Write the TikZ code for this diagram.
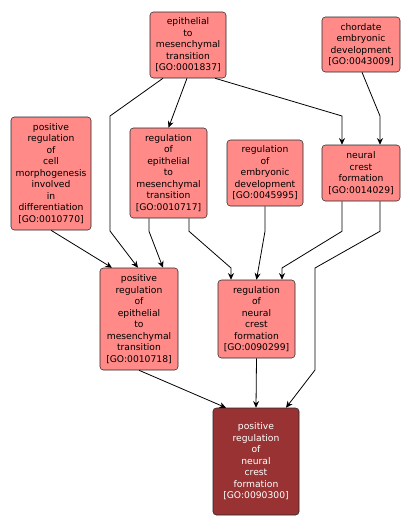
\documentclass[tikz,border=0pt]{standalone}
\usepackage{fontspec}
\setmainfont{DejaVu Sans}
\usetikzlibrary{arrows.meta, calc}
\tikzset{
    %Define standard arrow tip
    >={Stealth[length=5pt,width=4.5pt]},
}
\definecolor{golight}{HTML}{FF8A88}
\definecolor{godark}{HTML}{993333}

\begin{document}
\begin{tikzpicture}[
    x=0.75pt, y=-0.75pt,
    term/.style = {draw=black!85, fill=golight, rounded corners=2.5pt,
                   align=center, inner sep=1pt,
                   font=\fontsize{6.9}{8.6}\selectfont},
    hit/.style = {term, fill=godark, text=white},
    lnk/.style = {->, black, line width=0.6pt},
  ]
  \useasboundingbox (0,0) rectangle (410,529);
  \node[term, minimum width=57pt, minimum height=49.5pt] (emt) at (188,45)
    {epithelial\\to\\mesenchymal\\transition\\{[GO:0001837]}};
  \node[term, minimum width=58.5pt, minimum height=41.25pt] (chord) at (361,44.5)
    {chordate\\embryonic\\development\\{[GO:0043009]}};
  \node[term, minimum width=60pt, minimum height=84.75pt] (morph) at (51,173.5)
    {positive\\regulation\\of\\cell\\morphogenesis\\involved\\in\\differentiation\\{[GO:0010770]}};
  \node[term, minimum width=57.75pt, minimum height=67.5pt] (regemt) at (168.5,173)
    {regulation\\of\\epithelial\\to\\mesenchymal\\transition\\{[GO:0010717]}};
  \node[term, minimum width=57pt, minimum height=49.5pt] (regemb) at (265,173)
    {regulation\\of\\embryonic\\development\\{[GO:0045995]}};
  \node[term, minimum width=58.5pt, minimum height=42pt] (ncf) at (361,173)
    {neural\\crest\\formation\\{[GO:0014029]}};
  \node[term, minimum width=58.5pt, minimum height=76.5pt] (posemt) at (139,319)
    {positive\\regulation\\of\\epithelial\\to\\mesenchymal\\transition\\{[GO:0010718]}};
  \node[term, minimum width=57.75pt, minimum height=58.5pt] (regncf) at (256.5,319)
    {regulation\\of\\neural\\crest\\formation\\{[GO:0090299]}};
  \node[hit, minimum width=64.5pt, minimum height=80.25pt] (posncf) at (256,461.5)
    {positive\\regulation\\of\\neural\\crest\\formation\\{[GO:0090300]}};
  % edges
  \draw[lnk] ($(emt.south)+(-1,0)$) -- (regemt.north);
  \draw[lnk] ($(emt.south)+(-25,0)$) -- (110,116) -- (110,231) -- ($(posemt.north)+(-1,0)$);
  \draw[lnk] ($(emt.south)+(27,0)$) -- (342,116) -- ($(ncf.north)+(-19,0)$);
  \draw[lnk] ($(chord.south)+(1,0)$) -- (380,116) -- ($(ncf.north)+(19,0)$);
  \draw[lnk] (morph.south) -- ($(posemt.north)+(-27,0)$);
  \draw[lnk] ($(regemt.south)+(-19.5,0)$) -- ++(0,13) -- ($(posemt.north)+(24,0)$);
  \draw[lnk] ($(regemt.south)+(20.5,0)$) -- ++(0,13) -- (231,268) -- ($(regncf.north)+(-25.5,0)$);
  \draw[lnk] (regemb.south) -- ++(0,25) -- (regncf.north);
  \draw[lnk] ($(ncf.south)+(-19,0)$) -- ++(0,30) -- (282,268) -- ($(regncf.north)+(25.5,0)$);
  \draw[lnk] ($(ncf.south)+(19,0)$) -- ++(0,30) -- (315,268) -- (315,370) -- ($(posncf.north)+(30,0)$);
  \draw[lnk] (posemt.south) -- ($(posncf.north)+(-30,0)$);
  \draw[lnk] (regncf.south) -- (posncf.north);
\end{tikzpicture}
\end{document}
